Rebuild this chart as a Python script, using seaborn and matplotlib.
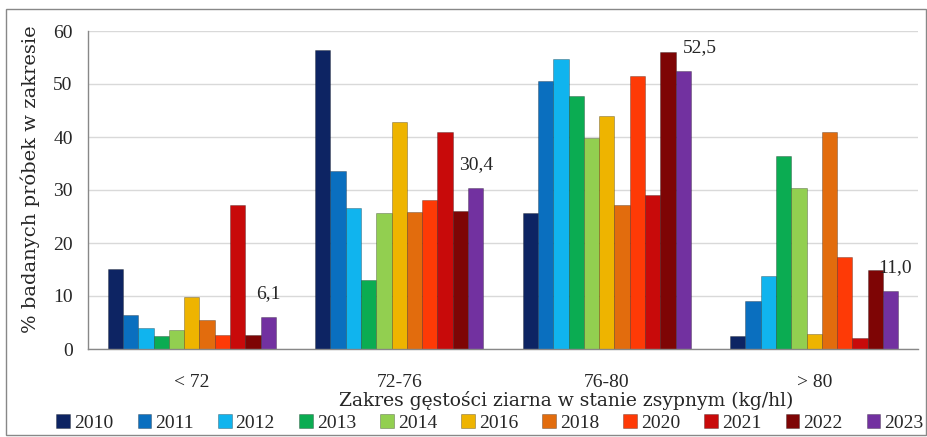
import numpy as np
import pandas as pd
import matplotlib.pyplot as plt
import seaborn as sns
from matplotlib.patches import Rectangle

categories = ['< 72', '72-76', '76-80', '> 80']
years = ['2010', '2011', '2012', '2013', '2014', '2016', '2018', '2020', '2021', '2022', '2023']

# % probek w kazdym zakresie, kolejno: < 72, 72-76, 76-80, > 80
v2010 = [15.1, 56.4, 25.7, 2.4]
v2011 = [6.4, 33.5, 50.5, 9.0]
v2012 = [4.0, 26.6, 54.8, 13.8]
v2013 = [2.5, 13.0, 47.7, 36.5]
v2014 = [3.6, 25.6, 39.9, 30.4]
v2016 = [9.9, 42.9, 43.9, 2.8]
v2018 = [5.5, 25.8, 27.2, 41.0]
v2020 = [2.6, 28.1, 51.5, 17.4]
v2021 = [27.2, 40.9, 29.1, 2.1]
v2022 = [2.6, 26.1, 56.0, 14.9]
v2023 = [6.1, 30.4, 52.5, 11.0]
labels_2023 = ['6,1', '30,4', '52,5', '11,0']

colors = ['#0d2463', '#0a6fbf', '#10b4ee', '#0bac52', '#92cf50', '#eeb400',
          '#e26c0d', '#fe3a06', '#c80a0a', '#7e0505', '#7231a0']

series = [v2010, v2011, v2012, v2013, v2014, v2016, v2018, v2020, v2021, v2022, v2023]
rows = []
for y, vals in zip(years, series):
    for c, v in zip(categories, vals):
        rows.append({'zakres': c, 'rok': y, 'procent': v})
df = pd.DataFrame(rows)

sns.set_style('white')
plt.rcParams['font.family'] = ['Liberation Serif', 'DejaVu Serif']

fig = plt.figure(figsize=(9.28, 4.37), dpi=100)
ax = fig.add_axes([88 / 928, 1 - 349 / 437, (918 - 88) / 928, (349 - 31) / 437])

sns.barplot(data=df, x='zakres', y='procent', hue='rok', palette=colors, saturation=1,
            width=0.81, errorbar=None, edgecolor=(0, 0, 0, 0.3), linewidth=0.6, ax=ax)

# etykiety dla 2023
offsets = [0, 0, 12, 3]
for bar, txt, dx in zip(ax.containers[-1], labels_2023, offsets):
    ax.annotate(txt, (bar.get_x() + bar.get_width() / 2, bar.get_height()),
                xytext=(dx, 16.5), textcoords='offset points',
                ha='center', va='center', fontsize=14)

ax.set_ylim(0, 60)
ax.set_yticks(np.arange(0, 61, 10))
ax.set_xlim(-0.5, 3.5)
ax.set_xticks(range(4))
ax.set_xticklabels(categories)
ax.set_xticks([-0.5, 0.5, 1.5, 2.5, 3.5], minor=True)
ax.tick_params(axis='x', which='major', length=0, pad=18, labelsize=14)
ax.tick_params(axis='x', which='minor', length=7, direction='out', color='#888888', width=1)
ax.tick_params(axis='y', length=7, direction='out', color='#888888', width=1, labelsize=14, pad=4)
ax.yaxis.grid(True, color='#d9d9d9', lw=1)
ax.set_axisbelow(True)
for s in ['top', 'right']:
    ax.spines[s].set_visible(False)
for s in ['left', 'bottom']:
    ax.spines[s].set_color('#888888')
    ax.spines[s].set_linewidth(1)

ax.set_xlabel('')
ax.set_ylabel('')
fig.text(30 / 928, 1 - 179 / 437, '% badanych próbek w zakresie', rotation=90,
         ha='center', va='center', fontsize=14, family='DejaVu Serif')
fig.text(566 / 928, 1 - 401 / 437, 'Zakres gęstości ziarna w stanie zsypnym (kg/hl)',
         ha='center', va='center', fontsize=13.5, family='DejaVu Serif')

ax.legend(loc='center', bbox_to_anchor=(490 / 928, 1 - 423 / 437), bbox_transform=fig.transFigure,
          ncol=11, frameon=False, handlelength=0.7, handleheight=0.7, handletextpad=0.2,
          columnspacing=1.25, fontsize=14, borderpad=0)

fig.patches.append(Rectangle((6 / 928, 2 / 437), 920 / 928, 426 / 437, transform=fig.transFigure,
                             fill=False, edgecolor='#888888', lw=1))

fig.savefig('out.png', dpi=100)
